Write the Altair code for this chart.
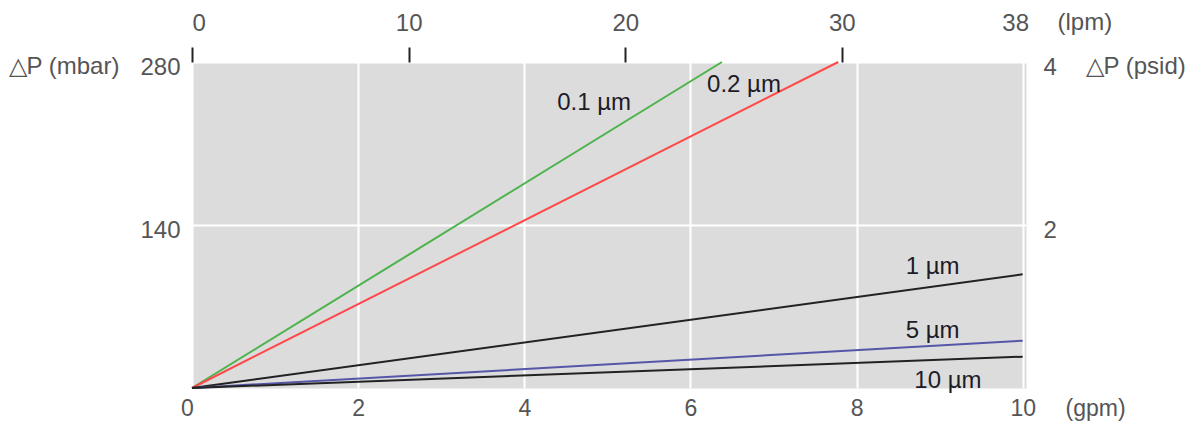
import altair as alt
import pandas as pd

# ---- data ----
series = ["0.1 µm", "0.2 µm", "1 µm", "5 µm", "10 µm"]
series_colors = ["#4cb34c", "#ff4848", "#222222", "#5656a8", "#222222"]
flow_start_gpm = [0, 0, 0, 0, 0]
dp_start_mbar = [0, 0, 0, 0, 0]
flow_end_gpm = [6.38, 7.78, 10.0, 10.0, 10.0]
dp_end_mbar = [280, 280, 97.7, 40.6, 26.9]

label_gpm = [4.84, 6.645, 8.915, 8.915, 9.10]
label_mbar = [244.8, 260.2, 103.5, 49.1, 5.6]

gpm_ticks = [0, 2, 4, 6, 8, 10]
mbar_ticks = [140, 280]
lpm_ticks = [0, 10, 20, 30, 38]
psid_ticks = [2, 4]

# ---- tables ----
rows = []
for s, x0, y0, x1, y1 in zip(series, flow_start_gpm, dp_start_mbar, flow_end_gpm, dp_end_mbar):
    rows.append({"series": s, "gpm": x0, "mbar": y0, "o": 0})
    rows.append({"series": s, "gpm": x1, "mbar": y1, "o": 1})
df_lines = pd.DataFrame(rows)
df_labels = pd.DataFrame({"series": series, "gpm": label_gpm, "mbar": label_mbar})
df_axes = pd.DataFrame({"lpm": [0, 38], "psid": [0, 4]})

FONT = "Liberation Sans"
TXT = "#555555"

x_scale = alt.Scale(domain=[0, 10.04], nice=False, zero=False)
y_scale = alt.Scale(domain=[0, 280], nice=False)

x_axis = alt.Axis(
    values=gpm_ticks, grid=True, gridColor="white", gridWidth=2,
    domain=False, ticks=False, tickSize=0,
    labelFontSize=23, labelFont=FONT, labelColor=TXT, labelPadding=9,
    labelFlush=False,
    labelOffset={"condition": {"test": "datum.value === 0", "value": -5}, "value": 0},
    title="(gpm)", titleX=873, titleY=20, titleAlign="left", titleBaseline="middle",
    titleFontSize=23, titleFont=FONT, titleFontWeight="normal", titleColor=TXT,
)
y_axis = alt.Axis(
    values=mbar_ticks, grid=True, gridColor="white", gridWidth=2,
    domain=False, ticks=False, tickSize=0,
    labelFontSize=24, labelFont=FONT, labelColor=TXT, labelPadding=12, labelOffset=5,
    title="△P (mbar)", titleAngle=0, titleX=-184, titleY=4, titleAlign="left",
    titleBaseline="middle", titleFontSize=24, titleFont=FONT,
    titleFontWeight="normal", titleColor=TXT,
)

lines = alt.Chart(df_lines).mark_line(strokeWidth=2).encode(
    x=alt.X("gpm:Q", scale=x_scale, axis=x_axis),
    y=alt.Y("mbar:Q", scale=y_scale, axis=y_axis),
    color=alt.Color("series:N", scale=alt.Scale(domain=series, range=series_colors), legend=None),
    order="o:Q",
)

labels = alt.Chart(df_labels).mark_text(
    fontSize=24, font=FONT, color="#1c1c28", align="center", baseline="middle"
).encode(
    x=alt.X("gpm:Q", scale=x_scale, axis=x_axis),
    y=alt.Y("mbar:Q", scale=y_scale, axis=y_axis),
    text="series:N",
)

top_axis = alt.Axis(
    orient="top", values=lpm_ticks, grid=False, domain=False,
    ticks=True, tickSize=15, tickWidth=2, tickColor="#222222",
    tickOpacity={"condition": {"test": "datum.value === 38", "value": 0}, "value": 1},
    labelFontSize=24, labelFont=FONT, labelColor=TXT, labelPadding=12, labelFlush=True,
    title="(lpm)", titleX=865, titleY=-40, titleAlign="left", titleBaseline="middle",
    titleFontSize=24, titleFont=FONT, titleFontWeight="normal", titleColor=TXT,
)
right_axis = alt.Axis(
    orient="right", values=psid_ticks, grid=False, domain=False,
    ticks=False, tickSize=0,
    labelFontSize=24, labelFont=FONT, labelColor=TXT, labelPadding=17, labelOffset=5,
    title="△P (psid)", titleAngle=0, titleX=59, titleY=4, titleAlign="left",
    titleBaseline="middle", titleFontSize=24, titleFont=FONT,
    titleFontWeight="normal", titleColor=TXT,
)

axes = alt.Chart(df_axes).mark_point(opacity=0).encode(
    x=alt.X("lpm:Q", scale=alt.Scale(domain=[0, 38.5], nice=False, zero=False), axis=top_axis),
    y=alt.Y("psid:Q", scale=alt.Scale(domain=[0, 4], nice=False), axis=right_axis),
)

chart = (
    alt.layer(alt.layer(lines, labels), axes)
    .resolve_scale(x="independent", y="independent")
    .properties(
        width=834,
        height=326,
        padding={"left": 184, "top": 54, "right": 170, "bottom": 33},
        autosize=alt.AutoSizeParams(type="none"),
        background="white",
    )
    .configure_view(fill="#dcdcdc", stroke="transparent")
)

chart.save("out.html", embed_options={"renderer": "svg", "actions": False})
